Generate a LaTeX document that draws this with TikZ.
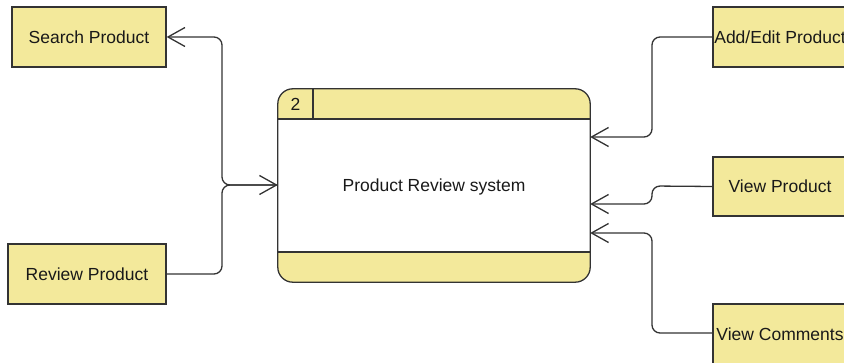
\documentclass[tikz,border=0pt]{standalone}
\usepackage{fontspec}
\setmainfont{Liberation Sans}
\usetikzlibrary{arrows.meta}
\definecolor{boxfill}{HTML}{F3E99B}
\definecolor{edge}{HTML}{333333}
\tikzset{
  ext/.style={draw=edge, fill=boxfill, line width=1.3pt, minimum width=#1, minimum height=60pt, inner sep=0pt, font=\fontsize{17.5}{20}\selectfont, text=black!90},
  flow/.style={draw=edge, line width=1.3pt, rounded corners=8pt, -{Straight Barb[length=17pt,width=19pt,line width=1.3pt]}},
  stroke/.style={draw=edge, line width=1.3pt},
}
\begin{document}
\begin{tikzpicture}[x=1pt,y=-1pt]
\useasboundingbox (0,0) rectangle (844,363);
\clip (0,0) rectangle (844,363);
% process
\node[minimum width=312pt, minimum height=193pt, inner sep=0pt] (proc) at (434,185.5) {};
\begin{scope}
  \clip[rounded corners=15pt] (proc.south west) rectangle (proc.north east);
  \fill[boxfill] (proc.north west) rectangle ([yshift=-30pt]proc.north east);
  \fill[boxfill] (proc.south west) rectangle ([yshift=30pt]proc.south east);
\end{scope}
\draw[stroke] (278,119) -- (590,119);
\draw[stroke] (278,252) -- (590,252);
\draw[stroke] (313,89) -- (313,119);
\draw[stroke, rounded corners=15pt] (proc.south west) rectangle (proc.north east);
\node[font=\fontsize{17.5}{20}\selectfont, text=black!90] (num) at (295.5,104.5) {2};
\node[font=\fontsize{17.5}{20}\selectfont, text=black!90] (title) at (434,187) {Product Review system};
% external entities
\node[ext=154pt] (search) at (89,37) {Search Product};
\node[ext=158pt] (review) at (87,274) {Review Product};
\node[ext=134pt] (add) at (780,37) {Add/Edit Product};
\node[ext=134pt, minimum height=59pt] (view) at (780,186.5) {View Product};
\node[ext=134pt] (comm) at (780,334) {View Comments};
% connectors
\draw[flow] (proc.west |- 0,185) -- (222,185) -- (222,37) -- (search.east);
\draw[flow] (review.east) -- (222,274) -- (222,185) -- (proc.west |- 0,185);
\draw[flow] (add.west) -- (652,37) -- (652,137) -- (proc.east |- 0,137);
\draw[flow] (view.west) -- (652,186) -- (652,204) -- (proc.east |- 0,204);
\draw[flow] (comm.west |- 0,333) -- (652,333) -- (652,233) -- (proc.east |- 0,233);
\end{tikzpicture}
\end{document}
